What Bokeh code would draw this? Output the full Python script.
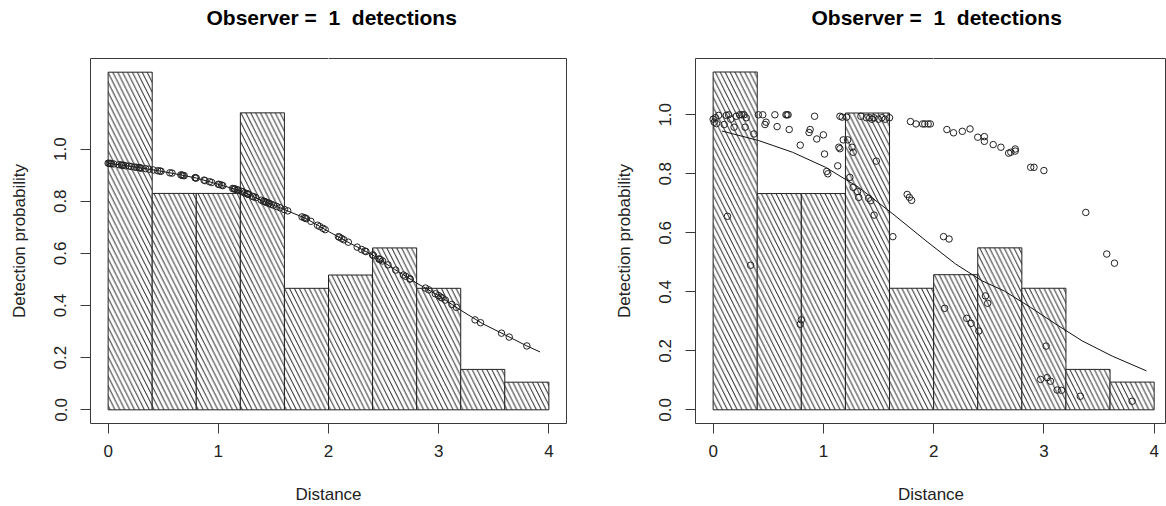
from bokeh.plotting import figure
from bokeh.layouts import row
from bokeh.models import (FixedTicker, PrintfTickFormatter, Range1d, ColumnDataSource,
                          LinearAxis)
from bokeh.embed import file_html
from bokeh.resources import INLINE

# ---------------- data ----------------
edges = [0.0, 0.4, 0.8, 1.2, 1.6, 2.0, 2.4, 2.8, 3.2, 3.6, 4.0]
hist_left = [1.295, 0.830, 0.830, 1.139, 0.466, 0.517, 0.621, 0.466, 0.155, 0.106]
hist_right = [1.145, 0.733, 0.733, 1.006, 0.412, 0.458, 0.549, 0.412, 0.137, 0.094]

distance = [0.00, 0.01, 0.02, 0.03, 0.05, 0.10, 0.12, 0.13, 0.14, 0.16,
            0.19, 0.21, 0.24, 0.26, 0.28, 0.29, 0.30, 0.34, 0.37, 0.41,
            0.45, 0.47, 0.48, 0.56, 0.58, 0.66, 0.67, 0.68, 0.69, 0.79,
            0.79, 0.80, 0.87, 0.88, 0.92, 0.94, 1.00, 1.01, 1.03, 1.04,
            1.13, 1.14, 1.15, 1.15, 1.17, 1.18, 1.21, 1.22, 1.24, 1.26,
            1.27, 1.27, 1.31, 1.32, 1.34, 1.39, 1.41, 1.42, 1.43, 1.44,
            1.46, 1.46, 1.48, 1.50, 1.53, 1.56, 1.60, 1.63, 1.76, 1.78,
            1.79, 1.80, 1.84, 1.90, 1.92, 1.95, 1.97, 2.09, 2.10, 2.12,
            2.14, 2.18, 2.26, 2.30, 2.33, 2.34, 2.40, 2.41, 2.46, 2.46,
            2.47, 2.49, 2.54, 2.61, 2.68, 2.70, 2.74, 2.74, 2.88, 2.91,
            2.97, 3.00, 3.02, 3.03, 3.06, 3.12, 3.16, 3.33, 3.38, 3.57,
            3.64, 3.80]

p_left = [0.946, 0.945, 0.945, 0.944, 0.943, 0.940, 0.939, 0.938, 0.938, 0.936,
          0.935, 0.933, 0.931, 0.930, 0.929, 0.928, 0.927, 0.925, 0.923, 0.920,
          0.917, 0.916, 0.915, 0.909, 0.908, 0.901, 0.900, 0.899, 0.898, 0.890,
          0.890, 0.889, 0.881, 0.879, 0.875, 0.872, 0.865, 0.864, 0.862, 0.860,
          0.849, 0.848, 0.847, 0.847, 0.844, 0.843, 0.838, 0.836, 0.832, 0.829,
          0.827, 0.827, 0.819, 0.817, 0.814, 0.804, 0.800, 0.799, 0.797, 0.795,
          0.792, 0.792, 0.788, 0.785, 0.780, 0.775, 0.768, 0.763, 0.740, 0.737,
          0.735, 0.733, 0.723, 0.708, 0.703, 0.696, 0.691, 0.664, 0.662, 0.657,
          0.652, 0.643, 0.624, 0.615, 0.609, 0.607, 0.594, 0.591, 0.578, 0.578,
          0.576, 0.571, 0.556, 0.536, 0.517, 0.512, 0.502, 0.502, 0.467, 0.460,
          0.445, 0.438, 0.432, 0.429, 0.421, 0.404, 0.393, 0.345, 0.334, 0.294,
          0.279, 0.245]

p_right = [0.985, 0.975, 0.990, 0.970, 0.998, 0.967, 0.998, 0.656, 1.000, 0.985,
           0.958, 0.995, 1.000, 1.000, 1.000, 0.958, 0.990, 0.490, 0.935, 1.000,
           1.000, 0.967, 0.975, 1.000, 0.960, 1.000, 1.000, 1.000, 0.950, 0.897,
           0.290, 0.305, 0.940, 0.950, 0.995, 0.918, 0.932, 0.867, 0.808, 0.800,
           0.827, 0.890, 0.885, 0.995, 0.992, 0.915, 0.992, 0.915, 0.788, 0.890,
           0.873, 0.754, 0.740, 0.720, 0.995, 0.990, 0.717, 0.990, 0.709, 0.985,
           0.660, 0.990, 0.843, 0.985, 0.990, 0.985, 0.990, 0.587, 0.730, 0.720,
           0.977, 0.710, 0.969, 0.969, 0.969, 0.969, 0.969, 0.587, 0.344, 0.950,
           0.579, 0.939, 0.944, 0.310, 0.952, 0.293, 0.924, 0.267, 0.926, 0.910,
           0.386, 0.361, 0.899, 0.890, 0.870, 0.873, 0.884, 0.877, 0.822, 0.822,
           0.103, 0.811, 0.216, 0.109, 0.097, 0.067, 0.066, 0.046, 0.669, 0.528,
           0.497, 0.029]

curve_left_x = [0.0, 0.2, 0.4, 0.6, 0.8, 1.0, 1.2, 1.4, 1.6, 1.8, 2.0, 2.2,
                2.4, 2.6, 2.8, 3.0, 3.2, 3.4, 3.6, 3.8, 3.92]
curve_left_y = [0.946, 0.934, 0.921, 0.906, 0.889, 0.865, 0.840, 0.802, 0.768,
                0.733, 0.684, 0.638, 0.594, 0.539, 0.486, 0.438, 0.382, 0.330,
                0.288, 0.245, 0.222]

curve_right_x = [0.08, 0.41, 0.72, 1.02, 1.32, 1.63, 1.93, 2.20, 2.44, 2.64,
                 2.88, 3.11, 3.35, 3.62, 3.93]
curve_right_y = [0.945, 0.913, 0.873, 0.822, 0.754, 0.664, 0.573, 0.494, 0.437,
                 0.403, 0.347, 0.290, 0.233, 0.182, 0.132]

# double spaces kept visible with no-break spaces
title_text = "Observer =\u00a0 1\u00a0 detections"
x_label = "Distance"
y_label = "Detection probability"
x_ticks = [0, 1, 2, 3, 4]
y_ticks = [0.0, 0.2, 0.4, 0.6, 0.8, 1.0]

FONT = "Liberation Sans"
INK = "#3a3a3a"


def panel(width, border_left, border_right, xr, yr, heights, py, cx, cy):
    p = figure(width=width, height=506, x_range=Range1d(*xr), y_range=Range1d(*yr),
               output_backend="svg", toolbar_location=None,
               min_border_left=border_left, min_border_right=border_right,
               min_border_top=58, min_border_bottom=83)
    # blank spacer axis between frame and title: one white tick, empty label
    spacer = LinearAxis(ticker=FixedTicker(ticks=[2]), axis_line_color=None,
                        major_tick_out=30, major_tick_in=0, major_tick_line_color="white",
                        minor_tick_out=0, minor_tick_line_color=None,
                        major_label_standoff=0, major_label_overrides={2: ""})
    p.add_layout(spacer, "above")

    p.title.text = title_text
    p.title.text_font = FONT
    p.title.text_font_size = "21px"
    p.title.text_font_style = "bold"
    p.title.text_color = "black"
    p.title.align = "left"
    p.title.offset = 116
    p.title.standoff = 0
    p.xgrid.visible = False
    p.ygrid.visible = False
    p.outline_line_color = INK
    p.outline_line_width = 1
    p.background_fill_color = "white"
    p.border_fill_color = "white"

    src = ColumnDataSource(dict(left=edges[:-1], right=edges[1:], top=heights,
                                bottom=[0] * len(heights)))
    p.quad(left="left", right="right", top="top", bottom="bottom", source=src,
           fill_color="white", line_color="#222222", line_width=1,
           hatch_pattern="\\", hatch_color="#2a2a2a", hatch_weight=1, hatch_scale=9.8)
    p.line(cx, cy, line_color="#111111", line_width=1)
    p.scatter(distance, py, marker="circle", size=6.5, fill_color=None,
              line_color="#222222", line_width=1)

    xa = p.below[0]
    ya = p.left[0]
    for ax in (xa, ya):
        ax.axis_line_color = None
        ax.major_tick_line_color = INK
        ax.major_tick_out = 10
        ax.major_tick_in = 0
        ax.minor_tick_line_color = None
        ax.major_label_text_font = FONT
        ax.major_label_text_font_size = "17px"
        ax.major_label_text_color = "#222222"
        ax.axis_label_text_font = FONT
        ax.axis_label_text_font_size = "17px"
        ax.axis_label_text_font_style = "normal"
        ax.axis_label_text_color = "#222222"
    xa.ticker = FixedTicker(ticks=x_ticks)
    ya.ticker = FixedTicker(ticks=y_ticks)
    ya.formatter = PrintfTickFormatter(format="%.1f")
    ya.major_label_orientation = "vertical"
    xa.axis_label = x_label
    ya.axis_label = y_label
    xa.major_label_standoff = 11
    ya.major_label_standoff = 14
    xa.axis_label_standoff = 25
    ya.axis_label_standoff = 23
    return p


left = panel(583, 90, 17, (-0.16, 4.16), (-0.0525, 1.3475), hist_left, p_left,
             curve_left_x, curve_left_y)
right = panel(583, 112, 0, (-0.16, 4.112), (-0.0464, 1.1908), hist_right, p_right,
              curve_right_x, curve_right_y)

layout = row(left, right, spacing=0)
open("out.html", "w").write(file_html(layout, INLINE))
